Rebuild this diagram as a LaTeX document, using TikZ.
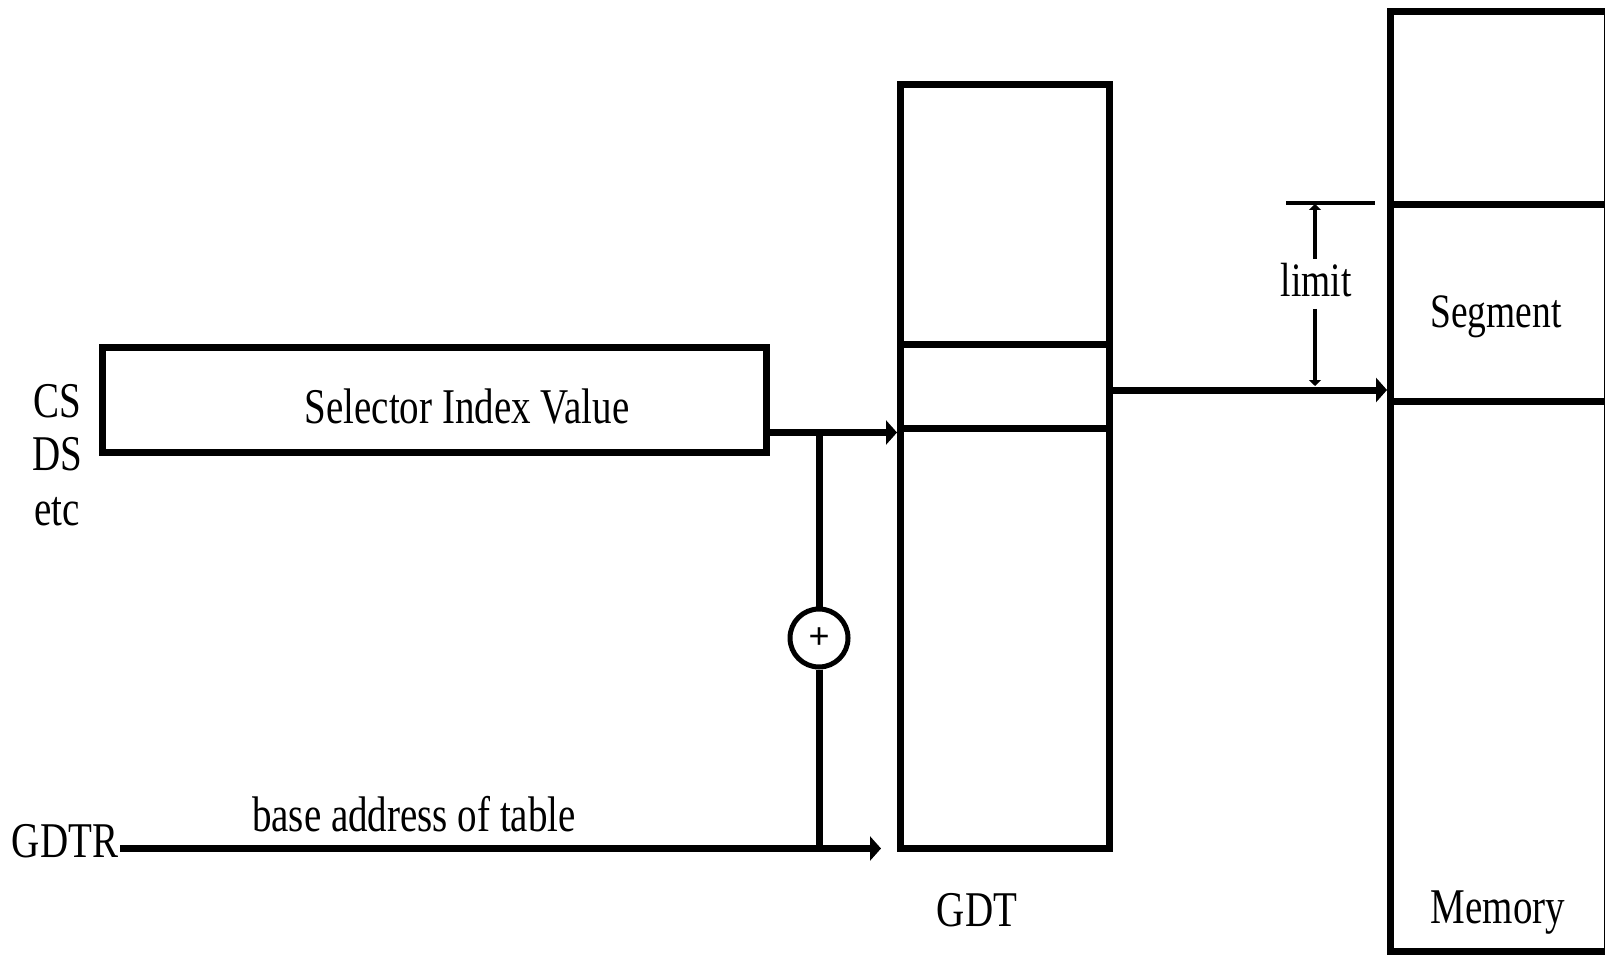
\documentclass[tikz,border=0pt]{standalone}
\usepackage{fontspec}
\setmainfont{Liberation Serif}
\newfontfamily\plusfont{Liberation Sans}
\usetikzlibrary{arrows.meta}
\newcommand{\cond}[1]{\scalebox{0.78}[1]{#1}}
\begin{document}
\begin{tikzpicture}[x=1pt,y=-1pt,
  box/.style={draw, line width=7pt, inner sep=0pt, rectangle},
  thickline/.style={line width=7pt},
  bigarrow/.style={line width=7pt, -{Triangle[length=11pt,width=24pt]}},
  dimarrow/.style={line width=4pt, -{Triangle[length=6pt,width=12pt]}},
  lbl/.style={inner sep=0pt, font=\fontsize{50}{60}\selectfont, anchor=base},
  slbl/.style={inner sep=0pt, font=\fontsize{48}{58}\selectfont, anchor=base}]
\useasboundingbox (0,0) rectangle (1605,957);
% selector register
\node[box, minimum width=664pt, minimum height=104.5pt] (sel) at (434,399.75) {};
\node[lbl] (seltxt) at (467,423) {\cond{Selector Index Value}};
\node[lbl] (cs) at (57.5,417) {\cond{CS}};
\node[lbl] (ds) at (57,470) {\cond{DS}};
\node[lbl] (etc) at (57,525) {\cond{etc}};
% GDT
\node[box, minimum width=208.5pt, minimum height=763.5pt] (gdt) at (1004.75,466.75) {};
\draw[thickline] (gdt.west |- 0,344) -- (gdt.east |- 0,344);
\draw[thickline] (gdt.west |- 0,428.5) -- (gdt.east |- 0,428.5);
\node[lbl] (gdtlbl) at (977,926) {\cond{GDT}};
% memory
\node[box, minimum width=216.5pt, minimum height=939pt] (mem) at (1498.75,481.5) {};
\draw[thickline] (mem.west |- 0,205) -- (mem.east |- 0,205);
\draw[thickline] (mem.west |- 0,401.5) -- (mem.east |- 0,401.5);
\node[slbl] (seg) at (1496,327) {\cond{Segment}};
\node[lbl] (memlbl) at (1498,923) {\cond{Memory}};
% selector to GDT
\coordinate (j) at (819,432.5);
\draw[bigarrow] (sel.east |- j) -- (gdt.west |- j);
% adder
\node[draw, circle, line width=5pt, minimum size=58pt, inner sep=0pt,
      font=\plusfont\fontsize{36}{36}\selectfont] (add) at (819,638) {+};
\coordinate (j2) at (819,848.5);
\draw[thickline] (j) -- (add);
\draw[thickline] (add) -- (j2);
% GDTR
\node[lbl] (gdtr) at (65,857) {\cond{GDTR}};
\coordinate (gs) at (120,848.5);
\coordinate (ge) at (881,848.5);
\draw[bigarrow] (gs) -- (ge);
\node[lbl] (base) at (414,831) {\cond{base address of table}};
% GDT to memory
\draw[bigarrow] (gdt.east |- 0,390) -- (mem.west |- 0,390);
% limit
\coordinate (tl1) at (1286,203);
\coordinate (tl2) at (1375,203);
\draw[line width=3.5pt] (tl1) -- (tl2);
\coordinate (lt) at (1315,204);
\coordinate (lb) at (1315,386);
\coordinate (lg1) at (1315,259);
\coordinate (lg2) at (1315,309);
\node[slbl] (limit) at (1316,297) {\cond{limit}};
\draw[dimarrow] (lg1) -- (lt);
\draw[dimarrow] (lg2) -- (lb);
\end{tikzpicture}
\end{document}
